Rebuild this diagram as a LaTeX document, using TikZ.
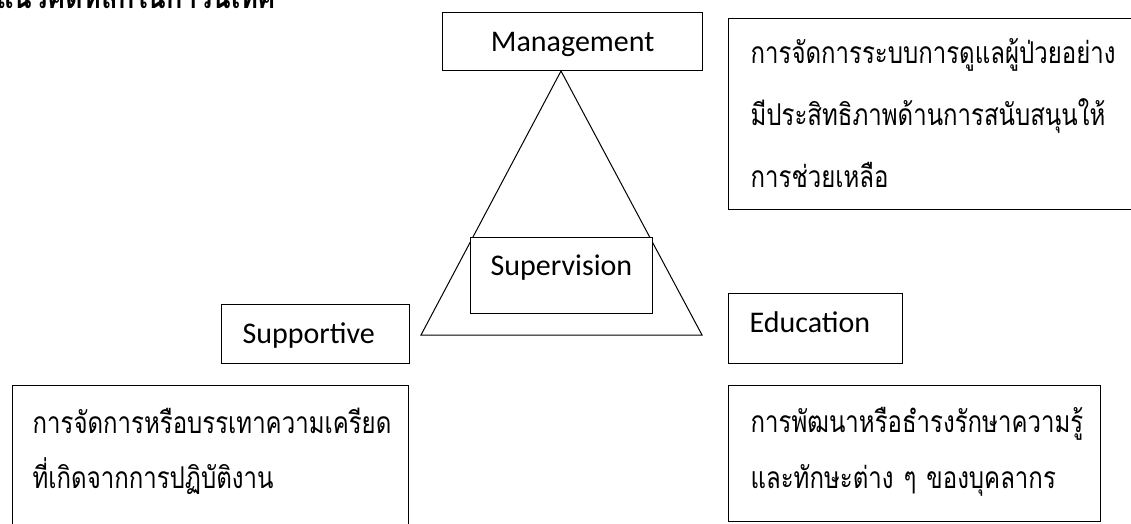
\documentclass[tikz,border=0pt]{standalone}
\usepackage{fontspec}
\setmainfont{Carlito}
\newfontfamily\thaifont[Script=Thai, FakeStretch=0.8]{Loma}
\usetikzlibrary{positioning}

\begin{document}
\begin{tikzpicture}[x=1pt, y=-1pt]
	\tikzstyle{format} = [draw, line width=1.3pt, inner ysep=0pt, anchor=north west, align=left, font=\fontsize{30}{36}\selectfont]
	\tikzset{thaibox/.style={format, font=\thaifont\fontsize{30}{#1}\selectfont}}

	\useasboundingbox (0,0) rectangle (1131,524);

	% heading, cut by the top edge
	\node[anchor=base west, inner sep=0pt, font=\thaifont\bfseries\fontsize{34}{40}\selectfont] (title) at (-4,9) {แนวคิดหลักในการนิเทศ};

	% triangle
	\coordinate (apex) at (561,71);
	\coordinate (baseleft) at (421,335);
	\coordinate (baseright) at (702,335);
	\draw[line width=1pt] (apex) -- (baseleft) -- (baseright) -- cycle;

	% the four roles
	\node[format, fill=white, text width=260pt, inner xsep=0pt, align=center, text height=39pt, text depth=19pt] (management) at (442,12) {Management};
	\node[format, fill=white, text width=142pt, inner xsep=20pt, text height=38pt, text depth=38pt] (supervision) at (470,237) {Supervision};
	\node[format, text width=146pt, inner xsep=21pt, text height=39pt, text depth=20pt] (supportive) at (221,304) {Supportive};
	\node[format, text width=132pt, inner xsep=21pt, text height=39pt, text depth=31pt] (education) at (728,293) {Education};

	% descriptions
	\node[thaibox=62pt, text width=373pt, inner xsep=22pt, text height=45pt, text depth=146pt] (managementtext) at (728,18)
		{การจัดการระบบการดูแลผู้ป่วยอย่าง\\มีประสิทธิภาพด้านการสนับสนุนให้\\การช่วยเหลือ};
	\node[thaibox=55pt, text width=356pt, inner xsep=20pt, text height=48pt, text depth=107pt] (supportivetext) at (12,385)
		{การจัดการหรือบรรเทาความเครียด\\ที่เกิดจากการปฏิบัติงาน};
	\node[thaibox=56pt, text width=328pt, inner xsep=22pt, text height=47pt, text depth=89pt] (educationtext) at (728,385)
		{การพัฒนาหรือธำรงรักษาความรู้\\และทักษะต่าง ๆ ของบุคลากร};
\end{tikzpicture}
\end{document}
